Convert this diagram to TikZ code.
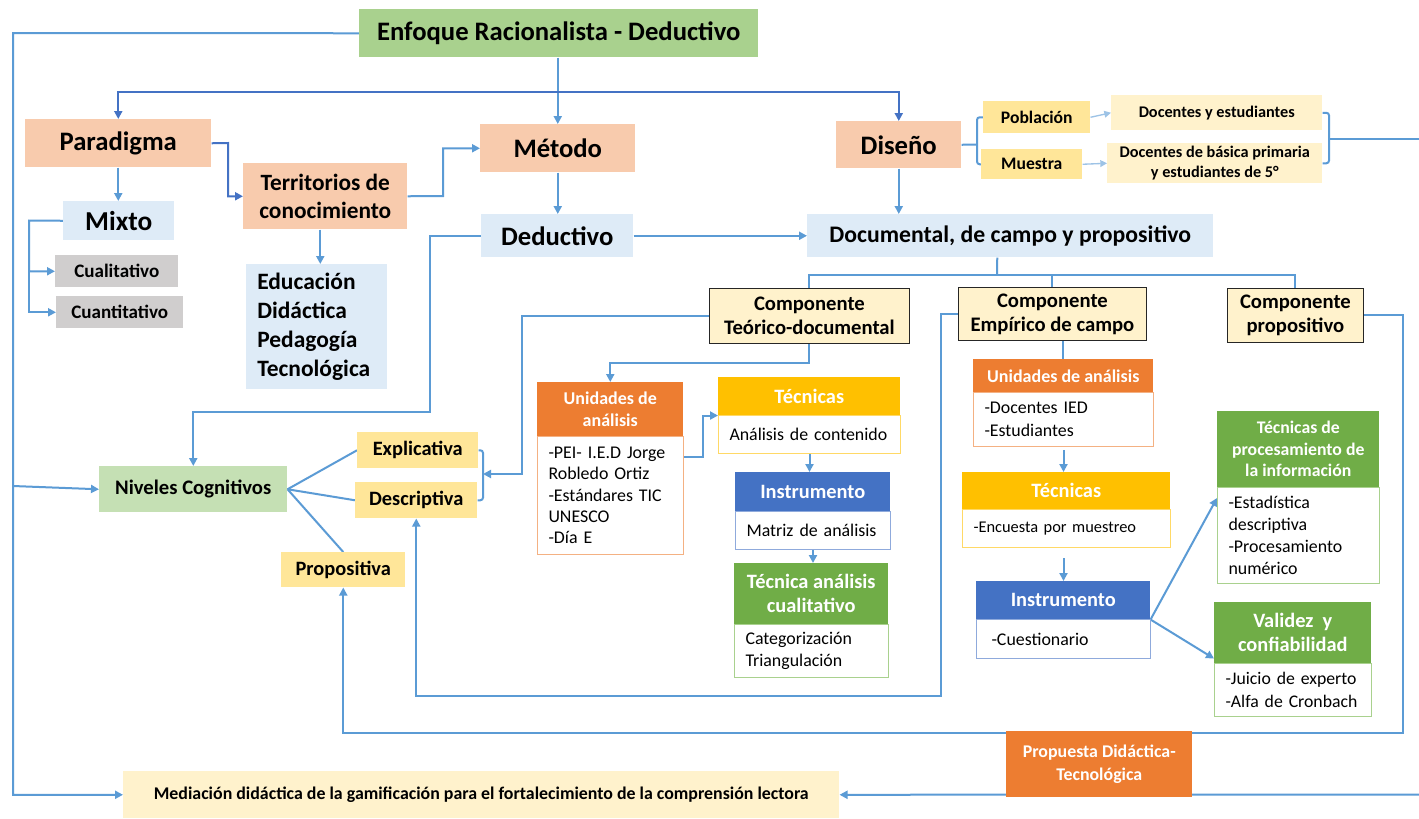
\documentclass[tikz,border=0pt]{standalone}
\usepackage{fontspec}
\setmainfont{Carlito}
\usetikzlibrary{arrows.meta,calc}
\pgfdeclarelayer{back}
\pgfdeclarelayer{bg}
\pgfsetlayers{back,bg,main}
\definecolor{lnb}{HTML}{5B9BD5}
\definecolor{lnd}{HTML}{4472C4}
\definecolor{lnt}{HTML}{9DC3E6}
\definecolor{cgreen}{HTML}{A9D18E}
\definecolor{csal}{HTML}{F8CBAD}
\definecolor{clblue}{HTML}{DEEBF7}
\definecolor{cgray}{HTML}{D0CECE}
\definecolor{cyel}{HTML}{FFE699}
\definecolor{ccream}{HTML}{FFF2CC}
\definecolor{clgreen}{HTML}{C5E0B4}
\definecolor{corange}{HTML}{ED7D31}
\definecolor{corangeL}{HTML}{F4B183}
\definecolor{cgold}{HTML}{FFC000}
\definecolor{cgoldL}{HTML}{FFD966}
\definecolor{cblue}{HTML}{4472C4}
\definecolor{cblueL}{HTML}{8FAADC}
\definecolor{cgr}{HTML}{70AD47}
\definecolor{cgrL}{HTML}{A9D18E}
\newcommand\fz[2]{\fontsize{#1}{#2}\selectfont}
\newcommand\bx[7]{%
 \pgfmathsetmacro\bW{(#4-#2)*0.75}\pgfmathsetmacro\bH{(#5-#3)*0.75}%
 \node[#6, anchor=north west, minimum width=\bW pt, minimum height=\bH pt] (#1) at (#2,#3) {#7};}
\newcommand\bb[7]{%
 \pgfmathsetmacro\bW{(#4-#2)*0.75}\pgfmathsetmacro\bH{(#5-#3)*0.75}\pgfmathsetmacro\tW{(#4-#2-22)*0.75}%
 \node[#6, anchor=north west, minimum width=\bW pt, minimum height=\bH pt, text width=\tW pt, inner xsep=8.25pt, inner ysep=0pt, align=left] (#1) at (#2,#3) {#7};}
\tikzset{
 base/.style={inner sep=0pt, align=center, text=black},
 big/.style={base, fill=csal, font=\fz{20}{24}\bfseries},
 comp/.style={base, fill=ccream, draw=black!85, line width=0.6pt, font=\fz{15.5}{18}\bfseries},
 lev/.style={base, fill=cyel, font=\fz{15.3}{18}\bfseries},
 hO/.style={base, fill=corange, text=white, font=\fz{13.5}{16.5}\bfseries},
 hY/.style={base, fill=cgold, text=white, font=\fz{15.3}{18}\bfseries},
 hB/.style={base, fill=cblue, text=white, font=\fz{15.3}{18}\bfseries},
 hG/.style={base, fill=cgr, text=white, font=\fz{15.3}{18}\bfseries},
 bO/.style={base, fill=white, draw=corangeL, line width=0.75pt, font=\fz{13.4}{16}},
 bY/.style={base, fill=white, draw=cgoldL, line width=0.75pt, font=\fz{13.4}{16}},
 bB/.style={base, fill=white, draw=cblueL, line width=0.75pt, font=\fz{13.4}{16}},
 bG/.style={base, fill=white, draw=cgrL, line width=0.75pt, font=\fz{13.4}{16.5}},
 ln/.style={draw=lnb, line width=1.5pt},
 lnk/.style={draw=lnd, line width=1.5pt},
 arr/.style={ln, -{Triangle[length=6pt,width=6pt]}},
 arrd/.style={lnk, -{Triangle[length=6pt,width=6pt]}},
 arrt/.style={draw=lnt, line width=1pt, -{Triangle[length=5pt,width=5pt]}}
}
\begin{document}
\begin{tikzpicture}[x=0.75pt,y=-0.75pt]
\begin{pgfonlayer}{back}
\fill[white] (0,0) rectangle (1419,818);
\end{pgfonlayer}
\useasboundingbox (0,0) rectangle (1419,818);
% top row
\bx{enf}{359}{9}{758}{57}{base, fill=cgreen, font=\fz{20}{24}\bfseries}{Enfoque Racionalista - Deductivo}
\bx{par}{25}{119}{211}{167}{big}{Paradigma}
\bx{ter}{243}{163}{407}{229}{base, fill=csal, font=\fz{17.5}{21}\bfseries}{Territorios de\\conocimiento}
\bx{met}{480}{124}{635}{172}{big}{Método}
\bx{dis}{836}{121}{961}{168}{big}{Diseño}
\bx{mix}{63}{201}{174}{240}{base, fill=clblue, font=\fz{20.5}{24}\bfseries}{Mixto}
\bx{cual}{55}{255}{178}{287}{base, fill=cgray, font=\fz{14.3}{17}\bfseries}{Cualitativo}
\bx{cuan}{56}{296}{183}{328}{base, fill=cgray, font=\fz{14.3}{17}\bfseries}{Cuantitativo}
\bb{edu}{246}{264}{387}{389}{base, fill=clblue, font=\fz{17.6}{21.75}\bfseries}{Educación\\Didáctica\\Pedagogía\\Tecnológica}
\bx{ded}{481}{214}{633}{257}{base, fill=clblue, font=\fz{20}{24}\bfseries}{Deductivo}
\bx{doc}{807}{214}{1213}{257}{base, fill=clblue, font=\fz{17.8}{21}\bfseries}{Documental, de campo y propositivo}
\bx{pob}{983}{101}{1090}{133}{base, fill=cyel, font=\fz{13.2}{16}\bfseries}{Población}
\bx{mue}{981}{149}{1082}{179}{base, fill=cyel, font=\fz{13.2}{16}\bfseries}{Muestra}
\bx{dye}{1111}{95}{1322}{130}{base, fill=ccream, font=\fz{12.2}{15}\bfseries}{Docentes y estudiantes}
\bx{dbp}{1107}{143}{1322}{183}{base, fill=ccream, font=\fz{12.2}{15}\bfseries}{Docentes de básica primaria\\y estudiantes de 5°}
% components
\bx{cteo}{709}{288}{909}{343}{comp}{Componente\\Teórico-documental}
\bx{cemp}{958}{287}{1146}{340}{comp}{Componente\\Empírico de campo}
\bx{cpro}{1227}{288}{1363}{342}{comp}{Componente\\propositivo}
% teorico-documental column
\bb{uaLb}{537}{436}{683}{554}{bO}{-PEI- I.E.D Jorge\\Robledo Ortiz\\-Estándares TIC\\UNESCO\\-Día E}
\bx{uaLh}{537}{382}{683}{436}{hO}{Unidades de\\análisis}
\bb{tecLb}{718}{415}{900}{453}{bY}{Análisis de contenido}
\bx{tecLh}{718}{377}{900}{415}{hY}{Técnicas}
\bb{insLb}{735}{511}{890}{549}{bB}{Matriz de análisis}
\bx{insLh}{735}{472}{890}{511}{hB}{Instrumento}
\bb{tacLb}{734}{624}{888}{677}{bG}{Categorización\\Triangulación}
\bx{tacLh}{734}{563}{888}{624}{hG}{Técnica análisis\\cualitativo}
% empirico column
\bb{uaRb}{973}{392}{1153}{446}{bO, font=\fz{13.4}{17.3}}{-Docentes IED\\-Estudiantes}
\bx{uaRh}{973}{359}{1153}{392}{hO}{Unidades de análisis}
\bb{tecRb}{962}{509}{1170}{547}{bY, font=\fz{12.3}{15}}{-Encuesta por muestreo}
\bx{tecRh}{962}{472}{1170}{509}{hY}{Técnicas}
\bb{insRb}{976}{619}{1150}{658}{bB}{\hspace*{3pt}-Cuestionario}
\bx{insRh}{976}{581}{1150}{619}{hB}{Instrumento}
\bb{tprb}{1217}{487}{1379}{583}{bG}{-Estadística\\descriptiva\\-Procesamiento\\numérico}
\bx{tprh}{1217}{411}{1379}{487}{hG, font=\fz{13.3}{16.1}\bfseries}{Técnicas de\\procesamiento de\\la información}
\bb{valb}{1214}{663}{1371}{716}{bG, font=\fz{13.3}{17.3}}{-Juicio de experto\\-Alfa de Cronbach}
\bx{valh}{1214}{602}{1371}{663}{hG}{Validez\ \ y\\confiabilidad}
% levels
\bx{niv}{99}{466}{287}{512}{base, fill=clgreen, font=\fz{15.5}{18}\bfseries}{Niveles Cognitivos}
\bx{exp}{357}{432}{478}{468}{lev}{Explicativa}
\bx{des}{355}{482}{477}{518}{lev}{Descriptiva}
\bx{pro}{281}{552}{405}{587}{lev}{Propositiva}
% bottom
\bx{prop}{1006}{731}{1192}{797}{base, fill=corange, text=white, font=\fz{13.4}{17.3}\bfseries}{Propuesta Didáctica-\\Tecnológica}
\bx{med}{123}{771}{839}{818}{base, fill=ccream, font=\fz{13.4}{16}\bfseries}{Mediación didáctica de la gamificación para el fortalecimiento de la comprensión lectora}
% connectors
\begin{pgfonlayer}{bg}
\draw[arr] (enf.west) -- (13,33) |- (med.west);
\coordinate (lj) at (13,486);
\draw[arr] (lj) -- (niv.west);
\draw[arr] (met.north |- enf.south) -- (met.north);
\coordinate (tj) at (met.north |- 0,92);
\draw[arrd] (tj) -| (par.north);
\draw[arrd] (tj) -| (dis.north);
\draw[arrd] (par.east) -- (228,143) |- (ter.west);
\draw[arr] (par.south) -- (par.south |- mix.north);
\coordinate (mj) at (29,220.5);
\draw[arr] (mix.west) -- (mj) |- (cual.west);
\draw[arr] (mj) |- (cuan.west);
\draw[arr] (ter.east) -- (443,196) |- (met.west);
\coordinate (t1) at ([xshift=-3.75pt]ter.south);
\draw[arr] (t1) -- (t1 |- edu.north);
\draw[arr] (met.south) -- (met.south |- ded.north);
\draw[arr] (ded.west) -| (430,412) -| (niv.north);
\draw[arr] (ded.east) -- (doc.west);
\draw[arr] (dis.south) -- (dis.south |- doc.north);
\coordinate (bj) at (977,144.5);
\draw[ln] (dis.east) -- (bj);
\draw[ln, rounded corners=2pt] (pob.west) -| (bj) |- (mue.west);
\draw[arrt] (pob.east) -- (dye.west);
\draw[arrt] (mue.east) -- (dbp.west);
\coordinate (rj) at (1329,139);
\draw[ln, rounded corners=2pt] (dye.east) -| (rj) |- (dbp.east);
\coordinate (rE1) at (1419,139);
\draw[ln] (rj) -- (rE1);
\coordinate (d1) at ([xshift=-9.75pt]doc.south);
\coordinate (dj) at (997,275);
\draw[ln] (d1) -- (dj);
\draw[ln] (cteo.north) |- (dj) -| (cpro.north);
\draw[ln] (cemp.north) -- (cemp.north |- dj);
\coordinate (bj2) at (483,474);
\draw[arr] (cteo.west) -| (522,474) -- (bj2);
\draw[ln, rounded corners=2pt] (exp.east) -| (bj2) |- (des.east);
\draw[arr] (cteo.south) -- ++(0,19) -| (uaLh.north);
\draw[arr] ($(uaLb.north east)+(0,21)$) -- ++(19,0) |- (tecLh.south west);
\draw[arr] (tecLb.south) -- (tecLb.south |- insLh.north);
\draw[arr] (insLb.south) -- (insLb.south |- tacLh.north);
\draw[arr] (cemp.west) -| (941,696) -| (des.south);
\draw[ln] (uaRh.north |- cemp.south) -- (uaRh.north);
\draw[arr] ($(uaRb.south)+(0,3)$) -- (uaRb.south |- tecRh.north);
\draw[arr] ($(uaRb.south |- tecRb.south)+(0,10)$) -- (uaRb.south |- insRh.north);
\draw[arr] (insRh.south east) -- ($(tprb.north west)+(0,11)$);
\draw[arr] (insRh.south east) -- ($(valh.south west)+(0,-5)$);
\draw[arr] (cpro.east) -| (1403,733) -| (pro.south);
\coordinate (rE2) at (1419,794.5);
\draw[arr] (rE2) -- (med.east);
\draw[ln] (niv.east) -- (exp.west);
\draw[ln] (niv.east) -- (des.west);
\draw[ln] (niv.east) -- (pro.north);
\end{pgfonlayer}
\end{tikzpicture}
\end{document}
